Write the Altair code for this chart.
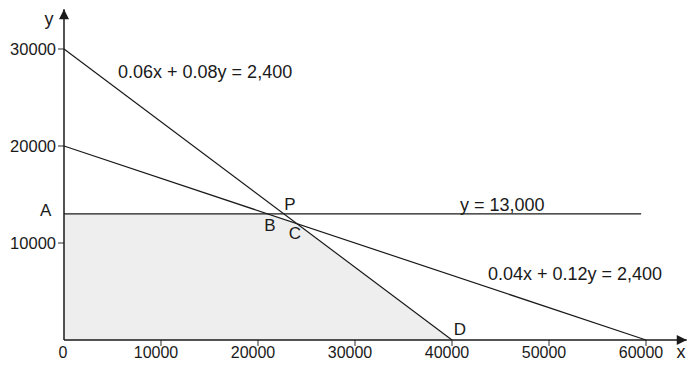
import altair as alt
import pandas as pd

# ---- data ----
# constraint lines (endpoints on the axes)
line_names = ["eq1", "eq1", "eq2", "eq2", "cap", "cap"]
line_x = [0, 40000, 0, 60000, 0, 59500]
line_y = [30000, 0, 20000, 0, 13000, 13000]

# feasible region corners (A, B, C/P, D)
region_x = [0, 21000, 24000, 40000]
region_y = [13000, 13000, 12000, 0]

# axis ticks
x_ticks = [10000, 20000, 30000, 40000, 50000, 60000]
x_tick_labels = ["10000", "20000", "30000", "40000", "50000", "60000"]
y_ticks = [10000, 20000, 30000]
y_tick_labels = ["10000", "20000", "30000"]

# axis extents (arrow tips)
x_axis_end = 64200
y_axis_end = 34100

# equation labels
eq_text = ["0.06x + 0.08y = 2,400", "y = 13,000", "0.04x + 0.12y = 2,400"]
eq_x = [5570, 40820, 43710]
eq_y = [27530, 13810, 6700]

# point labels
pt_text = ["A", "B", "P", "C", "D"]
pt_x = [-1900, 21240, 23300, 23810, 40820]
pt_y = [13250, 11800, 13870, 10880, 1030]

# axis names
ax_text = ["y", "x"]
ax_x = [-1550, 63600]
ax_y = [32950, -1300]

FONT = "Liberation Sans"
INK = "#1a1a1a"

xs = alt.Scale(domain=[-5773, 64330], nice=False, zero=False)
ys = alt.Scale(domain=[-2268, 34227], nice=False, zero=False)

def X(f="x"):
    return alt.X(f"{f}:Q", scale=xs, axis=None)

def Y(f="y"):
    return alt.Y(f"{f}:Q", scale=ys, axis=None)

lines_df = pd.DataFrame({"name": line_names, "x": line_x, "y": line_y})
region_df = pd.DataFrame({"x": region_x, "y": region_y})
xt_df = pd.DataFrame({"x": x_ticks, "y": [0] * len(x_ticks), "t": x_tick_labels})
yt_df = pd.DataFrame({"x": [0] * len(y_ticks), "y": y_ticks, "t": y_tick_labels})
eq_df = pd.DataFrame({"x": eq_x, "y": eq_y, "t": eq_text})
pt_df = pd.DataFrame({"x": pt_x, "y": pt_y, "t": pt_text})
ax_df = pd.DataFrame({"x": ax_x, "y": ax_y, "t": ax_text})
axes_df = pd.DataFrame({"x": [0, 0], "y": [0, 0], "x2": [x_axis_end, 0], "y2": [0, y_axis_end]})
zero_df = pd.DataFrame({"x": [0], "y": [0], "t": ["0"]})
xtip_df = pd.DataFrame({"x": [x_axis_end], "y": [0]})
ytip_df = pd.DataFrame({"x": [0], "y": [y_axis_end]})

area = alt.Chart(region_df).mark_area(color="#eeeeee", opacity=1).encode(
    x=X(), y=Y(), y2=alt.datum(0)
)

lines = alt.Chart(lines_df).mark_line(color=INK, strokeWidth=1.2).encode(
    x=X(), y=Y(), detail="name:N"
)

axes = alt.Chart(axes_df).mark_rule(color=INK, strokeWidth=1.5).encode(
    x=X(), y=Y(), x2="x2:Q", y2="y2:Q"
)

xtick_marks = alt.Chart(xt_df).mark_tick(
    orient="vertical", size=6, yOffset=3, thickness=1.3, color=INK
).encode(x=X(), y=Y())

ytick_marks = alt.Chart(yt_df).mark_tick(
    orient="horizontal", size=6, xOffset=-3, thickness=1.3, color=INK
).encode(x=X(), y=Y())

xtick_text = alt.Chart(xt_df).mark_text(
    font=FONT, fontSize=16, color=INK, align="center", baseline="middle", dy=12.5, dx=-5
).encode(x=X(), y=Y(), text="t:N")

zero_text = alt.Chart(zero_df).mark_text(
    font=FONT, fontSize=16, color=INK, align="center", baseline="middle", dy=12.5, dx=-1
).encode(x=X(), y=Y(), text="t:N")

ytick_text = alt.Chart(yt_df).mark_text(
    font=FONT, fontSize=16.5, color=INK, align="right", baseline="middle", dx=-8, dy=1
).encode(x=X(), y=Y(), text="t:N")

eq_labels = alt.Chart(eq_df).mark_text(
    font=FONT, fontSize=18, color=INK, align="left", baseline="middle"
).encode(x=X(), y=Y(), text="t:N")

pt_labels = alt.Chart(pt_df).mark_text(
    font=FONT, fontSize=17, color=INK, align="center", baseline="middle"
).encode(x=X(), y=Y(), text="t:N")

ax_labels = alt.Chart(ax_df).mark_text(
    font=FONT, fontSize=18, color=INK, align="center", baseline="middle"
).encode(x=X(), y=Y(), text="t:N")

xtip = alt.Chart(xtip_df).mark_point(
    shape="M0,0L-1,-0.5L-1,0.5Z", size=400, filled=True, opacity=1, color=INK, strokeWidth=0
).encode(x=X(), y=Y())

ytip = alt.Chart(ytip_df).mark_point(
    shape="M0,0L-0.5,1L0.5,1Z", size=400, filled=True, opacity=1, color=INK, strokeWidth=0
).encode(x=X(), y=Y())

chart = alt.layer(
    area, lines, axes, xtick_marks, ytick_marks, xtick_text, zero_text, ytick_text,
    eq_labels, pt_labels, ax_labels, xtip, ytip
).properties(
    width=680, height=354, autosize=alt.AutoSizeParams(type="none"), padding=0,
    background="white"
).configure_view(stroke=None)

chart.save("out.html", embed_options={"renderer": "svg", "actions": False})
